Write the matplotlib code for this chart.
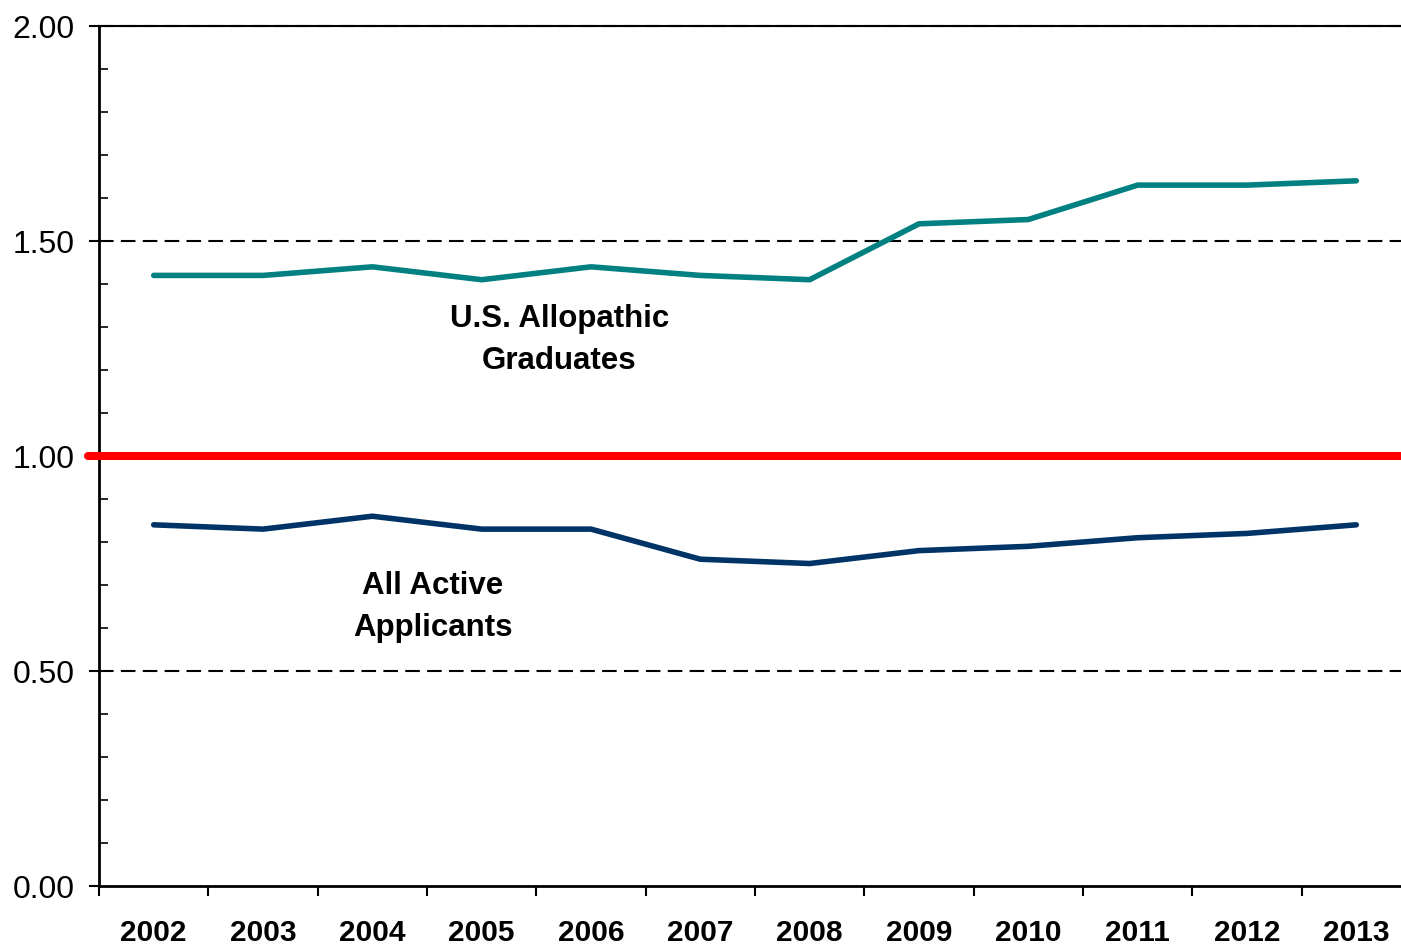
import matplotlib

matplotlib.use("Agg")
import matplotlib.pyplot as plt
import numpy as np
from matplotlib.ticker import MultipleLocator

plt.rcParams["font.family"] = ["Liberation Sans", "DejaVu Sans"]

years = ["2002", "2003", "2004", "2005", "2006", "2007",
         "2008", "2009", "2010", "2011", "2012", "2013"]
graduates = [1.42, 1.42, 1.44, 1.41, 1.44, 1.42, 1.41, 1.54, 1.55, 1.63, 1.63, 1.64]
applicants = [0.84, 0.83, 0.86, 0.83, 0.83, 0.76, 0.75, 0.78, 0.79, 0.81, 0.82, 0.84]

fig = plt.figure(figsize=(14.01, 9.46), dpi=100)
ax = fig.add_axes([0.0707, 0.0634, 0.9364, 0.9091])

x = np.arange(len(years))

for yv in (0.5, 1.5):
    ax.axhline(yv, color="black", lw=1.5, ls=(0, (7, 3.5)), zorder=1)
ax.axhline(2.0, color="black", lw=1.5, ls=(0, (7, 3.5)), zorder=1, clip_on=False)

# reference line at 1.0, sticks out a bit past the y axis
ax.axhline(1.0, xmin=-0.0085, xmax=1.0, color="#FF0000", lw=5.8,
           solid_capstyle="round", clip_on=False, zorder=3)

ax.plot(x, graduates, color="#008080", lw=4, solid_capstyle="round", zorder=4)
ax.plot(x, applicants, color="#003366", lw=4, solid_capstyle="round", zorder=4)

ax.text(3.71, 1.270, "U.S. Allopathic\nGraduates", ha="center", va="center",
        fontsize=22.5, fontweight="bold", linespacing=1.5)
ax.text(2.55, 0.649, "All Active\nApplicants", ha="center", va="center",
        fontsize=22.5, fontweight="bold", linespacing=1.5)

ax.set_xlim(-0.5, len(years) - 0.5)
ax.set_ylim(0, 2.0)

ax.yaxis.set_major_locator(MultipleLocator(0.5))
ax.yaxis.set_minor_locator(MultipleLocator(0.1))
ax.yaxis.set_major_formatter(plt.FuncFormatter(lambda v, p: f"{v:.2f}"))
ax.tick_params(axis="y", which="major", direction="out", length=7.5, width=1.5,
               labelsize=23, pad=10)
ax.tick_params(axis="y", which="minor", direction="in", length=6.5, width=1.2)

# ticks sit between categories, labels centred on them
ax.set_xticks(np.arange(-0.5, len(years), 1.0))
ax.set_xticklabels([])
ax.set_xticks(x, minor=True)
ax.set_xticklabels(years, minor=True, fontsize=21.5, fontweight="bold")
ax.tick_params(axis="x", which="major", direction="out", length=7.5, width=1.5)
ax.tick_params(axis="x", which="minor", length=0, pad=24)

for side in ("left", "bottom"):
    ax.spines[side].set_linewidth(2)
ax.spines["right"].set_visible(False)
ax.spines["top"].set_linewidth(1.5)

fig.savefig("out.png", dpi=100)
